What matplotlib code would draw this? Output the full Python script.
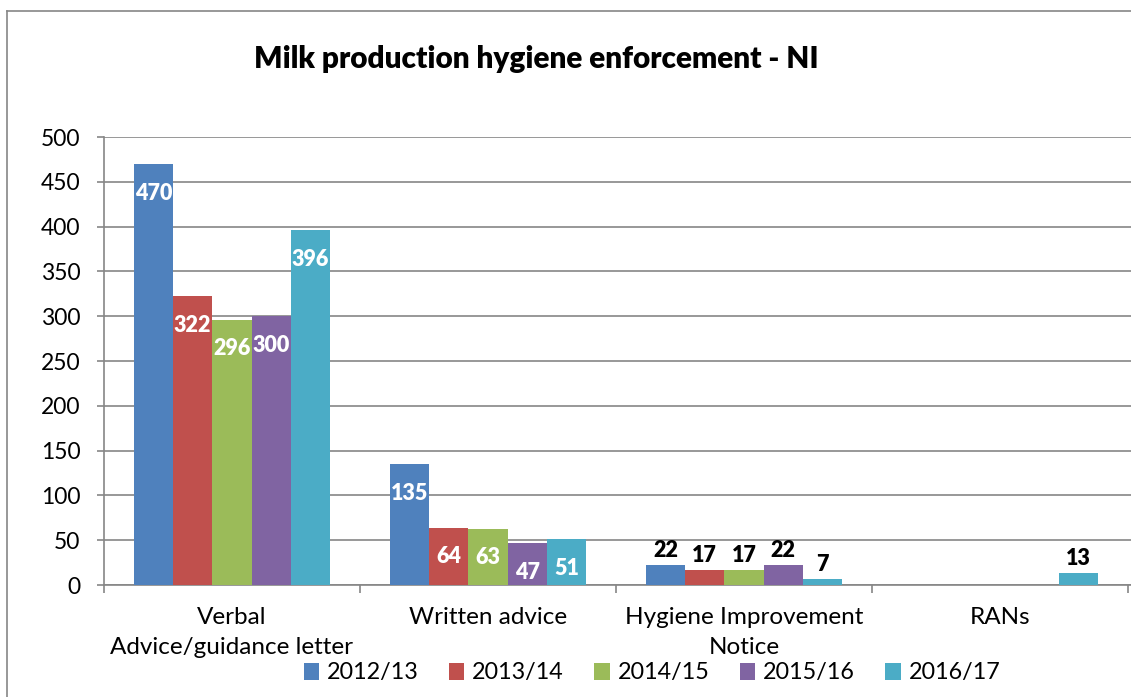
import matplotlib
matplotlib.use('Agg')
import matplotlib.pyplot as plt
import numpy as np
from matplotlib.patches import Patch
from matplotlib.lines import Line2D

plt.rcParams['font.family'] = ['Lato', 'DejaVu Sans']

categories = ['Verbal\nAdvice/guidance letter', 'Written advice',
              'Hygiene Improvement\nNotice', 'RANs']
years = ['2012/13', '2013/14', '2014/15', '2015/16', '2016/17']
values = {
    '2012/13': [470, 135, 22, 0],
    '2013/14': [322, 64, 17, 0],
    '2014/15': [296, 63, 17, 0],
    '2015/16': [300, 47, 22, 0],
    '2016/17': [396, 51, 7, 13],
}
colors = ['#4F81BD', '#C0504D', '#9BBB59', '#8064A2', '#4BACC6']
grey = '#868686'

W, H = 1131, 697
fig = plt.figure(figsize=(W / 100, H / 100), dpi=100)
ax = fig.add_axes([104 / W, 1 - 585 / H, (1131 - 104) / W, (585 - 137) / H])

x = np.arange(len(categories))
bw = 0.1535
for i, yr in enumerate(years):
    vals = values[yr]
    pos = x + (i - 2) * bw
    ax.bar(pos, vals, width=bw, color=colors[i], zorder=3)
    for px, v in zip(pos, vals):
        if v == 0:
            continue
        if v >= 40:
            ax.annotate(str(v), (px, v), xytext=(0, -21), textcoords='offset points',
                        ha='center', va='center', color='white', fontsize=15.5,
                        fontweight='heavy', zorder=4)
        else:
            ax.annotate(str(v), (px, v), xytext=(0, 10.5), textcoords='offset points',
                        ha='center', va='center', color='black', fontsize=15.5,
                        fontweight='heavy', zorder=4)

ax.set_ylim(0, 500)
ax.set_xlim(-0.5, 3.5 + 3 / 256)
ax.set_yticks(np.arange(0, 501, 50))
ax.yaxis.grid(True, color=grey, lw=1.2, zorder=0)
ax.set_axisbelow(True)
ax.set_xticks(x)
ax.set_xticklabels(categories, linespacing=1.55)
ax.set_xticks(np.arange(-0.5, 3.6, 1), minor=True)
ax.tick_params(axis='x', which='major', length=0, pad=15.5, labelsize=17.5)
ax.tick_params(axis='x', which='minor', length=6, width=1.2, color=grey, direction='out')
ax.tick_params(axis='y', length=5, width=1.2, color=grey, pad=12, labelsize=16.5)
for s in ['top', 'right']:
    ax.spines[s].set_visible(False)
for s in ['left', 'bottom']:
    ax.spines[s].set_color(grey)
    ax.spines[s].set_linewidth(1.2)

fig.text(536 / W, 1 - 59 / H, 'Milk production hygiene enforcement - NI',
         ha='center', va='center', fontsize=21.4, fontweight='heavy')

handles = [Patch(facecolor=c, edgecolor='none') for c in colors]
fig.legend(handles, years, loc='center', bbox_to_anchor=(652 / W, 1 - 673 / H),
           ncol=5, frameon=False, fontsize=16.8, handlelength=0.65, handleheight=0.7,
           handletextpad=0.35, columnspacing=1.3, borderpad=0, borderaxespad=0)

# outer chart border
fig.add_artist(Line2D([7 / W, 7 / W], [0, 1 - 11 / H], transform=fig.transFigure, color=grey, lw=1.2))
fig.add_artist(Line2D([7 / W, 1], [1 - 11 / H, 1 - 11 / H], transform=fig.transFigure, color=grey, lw=1.2))

fig.savefig('out.png', dpi=100)
